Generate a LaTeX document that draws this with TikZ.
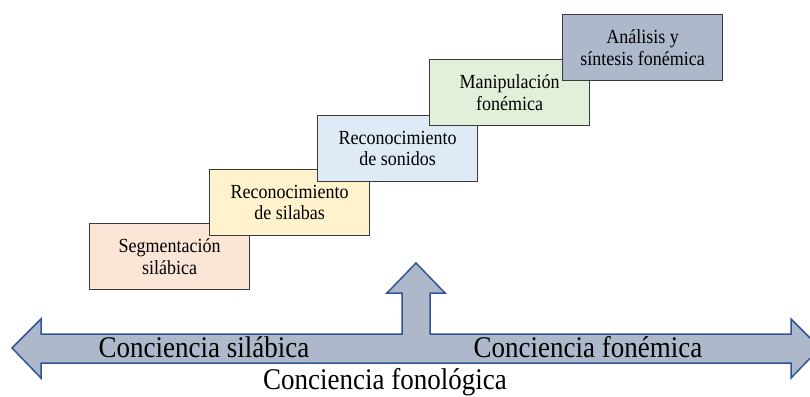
\documentclass[tikz,border=0pt]{standalone}
\usepackage{fontspec}
\setmainfont{Liberation Serif}
\newfontfamily\narrowserif[FakeStretch=0.9]{Liberation Serif}
\definecolor{boxline}{HTML}{3A3A3A}
\definecolor{peach}{HTML}{FBE5D6}
\definecolor{paleyellow}{HTML}{FFF2CC}
\definecolor{paleblue}{HTML}{DEEBF7}
\definecolor{palegreen}{HTML}{E2F0D9}
\definecolor{bluegray}{HTML}{ADB9CA}
\definecolor{arrowline}{HTML}{2F5597}
\begin{document}
\begin{tikzpicture}[x=1pt,y=-1pt,
  stepbox/.style={draw=boxline, line width=1.2pt, minimum width=160pt,
    minimum height=66pt, anchor=north west, inner sep=0pt, align=center,
    font=\narrowserif\fontsize{20}{21.5}\selectfont},
  biglabel/.style={anchor=base, inner sep=0pt,
    font=\narrowserif\fontsize{30}{36}\selectfont},
  bigarrow/.style={draw=arrowline, line width=1.5pt, fill=bluegray, line join=miter}]
\useasboundingbox (0,0) rectangle (810,396);
\begin{scope}
\clip (0,0) rectangle (810,396);
\draw[bigarrow] (12,348) -- (41,319) -- (41,334) -- (402,334) -- (402,293)
  -- (387,293) -- (416,263) -- (445,293) -- (430,293) -- (430,334)
  -- (791,334) -- (791,319) -- (820,348) -- (791,378) -- (791,363)
  -- (41,363) -- (41,378) -- cycle;
\end{scope}
\node[biglabel] (silabica) at (204,357) {Conciencia silábica};
\node[biglabel] (fonemica) at (588,357) {Conciencia fonémica};
\node[biglabel] (fonologica) at (385,389) {Conciencia fonológica};
\node[stepbox, fill=peach] (b1) at (89,223) {Segmentación\\silábica};
\node[stepbox, fill=paleyellow] (b2) at (209,169) {Reconocimiento\\de silabas};
\node[stepbox, fill=paleblue] (b3) at (317,115) {Reconocimiento\\de sonidos};
\node[stepbox, fill=palegreen] (b4) at (429,59) {Manipulación\\fonémica};
\node[stepbox, fill=bluegray] (b5) at (562,14) {Análisis y\\síntesis fonémica};
\end{tikzpicture}
\end{document}
